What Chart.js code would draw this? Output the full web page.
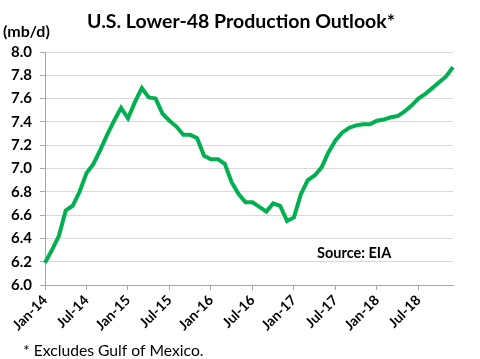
<!DOCTYPE html>
<html>
<head>
<meta charset="utf-8">
<script src="https://cdn.jsdelivr.net/npm/chart.js@4.4.1/dist/chart.umd.min.js"></script>
<style>
html,body{margin:0;padding:0;background:#fff;}
#wrap{width:480px;height:359px;position:relative;}
</style>
</head>
<body>
<div id="wrap"><canvas id="c" width="480" height="359"></canvas></div>
<script>
const months = ['Jan','Feb','Mar','Apr','May','Jun','Jul','Aug','Sep','Oct','Nov','Dec'];
const years = ['14','15','16','17','18'];
const categories = [];
years.forEach(y => months.forEach(m => categories.push(m + '-' + y)));

const production = [
  6.19, 6.30, 6.42, 6.64, 6.68, 6.80, 6.96, 7.04, 7.16, 7.29, 7.41, 7.52,
  7.43, 7.57, 7.69, 7.61, 7.60, 7.47, 7.41, 7.36, 7.29, 7.29, 7.26, 7.11,
  7.08, 7.08, 7.04, 6.88, 6.78, 6.71, 6.71, 6.67, 6.63, 6.70, 6.68, 6.55,
  6.58, 6.78, 6.90, 6.94, 7.01, 7.14, 7.24, 7.31, 7.35, 7.37, 7.38, 7.38,
  7.41, 7.42, 7.44, 7.45, 7.49, 7.54, 7.60, 7.64, 7.69, 7.74, 7.79, 7.87
];

const yTicks = [6.0, 6.2, 6.4, 6.6, 6.8, 7.0, 7.2, 7.4, 7.6, 7.8, 8.0];
const xTickLabels = ['Jan-14','Jul-14','Jan-15','Jul-15','Jan-16','Jul-16','Jan-17','Jul-17','Jan-18','Jul-18'];

const titleText = 'U.S. Lower-48 Production Outlook*';
const unitText = '(mb/d)';
const sourceText = 'Source: EIA';
const footText = '* Excludes Gulf of Mexico.';

const FONT = 'Lato, "Open Sans", sans-serif';

const textPlugin = {
  id: 'texts',
  afterDraw(chart) {
    const ctx = chart.ctx;
    ctx.save();
    ctx.fillStyle = '#000';
    ctx.textBaseline = 'alphabetic';
    ctx.font = 'bold 19.5px ' + FONT;
    ctx.textAlign = 'center';
    ctx.fillText(titleText, 241, 28);
    ctx.font = 'bold 16px ' + FONT;
    ctx.textAlign = 'left';
    ctx.fillText(unitText, 3, 37);
    ctx.font = 'bold 14.5px ' + FONT;
    ctx.fillText(sourceText, 317, 258);
    ctx.font = '15.7px ' + FONT;
    ctx.fillText(footText, 23, 356);
    ctx.restore();
  }
};

new Chart(document.getElementById('c'), {
  type: 'line',
  data: {
    labels: categories,
    datasets: [{
      data: production,
      borderColor: '#00B050',
      borderWidth: 4,
      pointRadius: 0,
      tension: 0,
      fill: false
    }]
  },
  options: {
    responsive: false,
    animation: false,
    devicePixelRatio: 1,
    layout: { padding: { top: 52, right: 27, left: 0, bottom: 0 } },
    plugins: { legend: { display: false }, tooltip: { enabled: false }, title: { display: false } },
    scales: {
      x: {
        offset: false,
        afterFit(scale) { scale.height = 74; },
        border: { display: true, color: '#a6a6a6', width: 1 },
        grid: {
          drawOnChartArea: false,
          drawTicks: true,
          tickLength: 5,
          color: c => (xTickLabels.includes(categories[c.index]) ? '#a6a6a6' : 'rgba(0,0,0,0)'),
          tickColor: c => (xTickLabels.includes(categories[c.index]) ? '#a6a6a6' : 'rgba(0,0,0,0)')
        },
        ticks: {
          autoSkip: false,
          minRotation: 45,
          maxRotation: 45,
          padding: 2,
          color: '#000',
          font: { family: FONT, size: 14, weight: 'bold' },
          callback: function(v, i) { return xTickLabels.includes(categories[i]) ? categories[i] : ''; }
        }
      },
      y: {
        min: 6.0,
        max: 8.0,
        afterFit(scale) { scale.width = 45; },
        afterBuildTicks(scale) { scale.ticks = yTicks.map(v => ({ value: v })); },
        border: { display: true, color: '#a6a6a6', width: 1 },
        grid: { color: '#d9d9d9', lineWidth: 1, drawTicks: true, tickLength: 5, tickColor: '#a6a6a6' },
        ticks: {
          color: '#000',
          padding: 8,
          font: { family: FONT, size: 15, weight: 'bold' },
          callback: v => Number(v).toFixed(1)
        }
      }
    }
  },
  plugins: [textPlugin]
});
</script>
</body>
</html>
